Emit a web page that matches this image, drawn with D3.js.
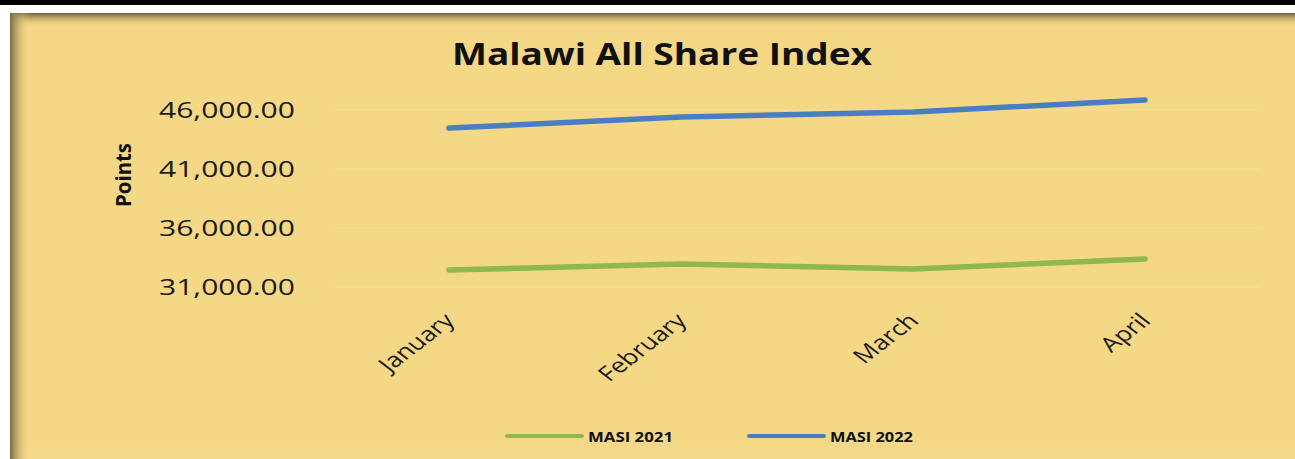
<!DOCTYPE html>
<html>
<head>
<meta charset="utf-8">
<script src="https://cdn.jsdelivr.net/npm/d3@7"></script>
<style>
  html, body { margin: 0; padding: 0; background: #fff; }
  svg { display: block; }
</style>
</head>
<body>
<svg id="chart" width="1295" height="459"></svg>
<script>
// data
const months = ['January', 'February', 'March', 'April'];
const masi2021 = [32440, 32950, 32520, 33370];
const masi2022 = [44470, 45400, 45830, 46850];
const yTicks = [31000, 36000, 41000, 46000];
const seriesNames = ['MASI 2021', 'MASI 2022'];
const seriesColors = ['#8fb84e', '#4a7ec3'];

const W = 1295, H = 459;
const svg = d3.select('#chart');
const defs = svg.append('defs');

// top shadow + left shadow of the panel
const gTop = defs.append('linearGradient').attr('id', 'shTop')
  .attr('x1', 0).attr('y1', 0).attr('x2', 0).attr('y2', 1);
gTop.append('stop').attr('offset', '0%').attr('stop-color', '#6e6040').attr('stop-opacity', 1);
gTop.append('stop').attr('offset', '100%').attr('stop-color', '#f4d886').attr('stop-opacity', 0);
const gLeft = defs.append('linearGradient').attr('id', 'shLeft')
  .attr('x1', 0).attr('y1', 0).attr('x2', 1).attr('y2', 0);
gLeft.append('stop').attr('offset', '0%').attr('stop-color', '#7a6a45').attr('stop-opacity', 1);
gLeft.append('stop').attr('offset', '100%').attr('stop-color', '#f4d886').attr('stop-opacity', 0);

// black strip at top
svg.append('rect').attr('x', 0).attr('y', 0).attr('width', W).attr('height', 5).attr('fill', '#000');

// panel
svg.append('rect').attr('x', 10).attr('y', 13).attr('width', W - 10).attr('height', H - 13).attr('fill', '#f4d886');
svg.append('rect').attr('x', 10).attr('y', H - 12).attr('width', W - 10).attr('height', 12).attr('fill', '#f5da8c');
svg.append('rect').attr('x', 10).attr('y', 13).attr('width', W - 10).attr('height', 14).attr('fill', 'url(#shTop)');
svg.append('rect').attr('x', 10).attr('y', 13).attr('width', 20).attr('height', H - 13).attr('fill', 'url(#shLeft)');

// scales
const x = d3.scaleBand().domain(months).range([333, 1261]);
const y = d3.scaleLinear().domain([31000, 46000]).range([287, 110]);
const cx = d => x(d) + x.bandwidth() / 2;

// gridlines
svg.append('g').selectAll('line').data(yTicks).enter().append('line')
  .attr('x1', 333).attr('x2', 1261)
  .attr('y1', d => y(d)).attr('y2', d => y(d))
  .attr('stroke', '#f6dd98').attr('stroke-width', 1);

// y axis labels
const yAxis = svg.append('g')
  .attr('transform', 'translate(295,0)')
  .call(d3.axisLeft(y).tickValues(yTicks).tickSize(0).tickPadding(0).tickFormat(d3.format(',.2f')));
yAxis.select('.domain').remove();
yAxis.selectAll('text')
  .attr('font-family', 'Open Sans, sans-serif')
  .attr('font-size', 21)
  .attr('fill', '#1a1a1a')
  .attr('dy', '0.36em')
  .attr('textLength', 136)
  .attr('lengthAdjust', 'spacingAndGlyphs');

// y title
svg.append('text')
  .attr('transform', 'translate(131,175) rotate(-90)')
  .attr('text-anchor', 'middle')
  .attr('font-family', 'Open Sans, sans-serif')
  .attr('font-weight', 'bold')
  .attr('font-size', 22)
  .attr('fill', '#111')
  .attr('textLength', 64)
  .attr('lengthAdjust', 'spacingAndGlyphs')
  .text('Points');

// title
svg.append('text')
  .attr('x', 662).attr('y', 65)
  .attr('text-anchor', 'middle')
  .attr('font-family', 'Open Sans, sans-serif')
  .attr('font-weight', 'bold')
  .attr('font-size', 30)
  .attr('fill', '#111')
  .attr('textLength', 420)
  .attr('lengthAdjust', 'spacingAndGlyphs')
  .text('Malawi All Share Index');

// x labels (stretched horizontally like the reference)
svg.append('g').selectAll('text').data(months).enter().append('text')
  .attr('transform', d => 'translate(' + (cx(d) + 7) + ',322) scale(1.3,1) rotate(-45)')
  .attr('text-anchor', 'end')
  .attr('font-family', 'Open Sans, sans-serif')
  .attr('font-size', 20.5)
  .attr('fill', '#1a1a1a')
  .text(d => d);

// lines
const line = d3.line().x((d, i) => cx(months[i])).y(d => y(d));
[masi2021, masi2022].forEach((s, i) => {
  svg.append('path')
    .datum(s)
    .attr('d', line)
    .attr('fill', 'none')
    .attr('stroke', seriesColors[i])
    .attr('stroke-width', 5.5)
    .attr('stroke-linecap', 'round')
    .attr('stroke-linejoin', 'round');
});

// legend
const legX = [507, 749];
const legLen = [85, 83];
seriesNames.forEach((n, i) => {
  svg.append('line')
    .attr('x1', legX[i]).attr('x2', legX[i] + 75)
    .attr('y1', 436).attr('y2', 436)
    .attr('stroke', seriesColors[i]).attr('stroke-width', 4)
    .attr('stroke-linecap', 'round');
  svg.append('text')
    .attr('x', legX[i] + 81).attr('y', 442)
    .attr('font-family', 'Open Sans, sans-serif')
    .attr('font-weight', 'bold')
    .attr('font-size', 14)
    .attr('fill', '#111')
    .attr('textLength', legLen[i])
    .attr('lengthAdjust', 'spacingAndGlyphs')
    .text(n);
});
</script>
</body>
</html>
